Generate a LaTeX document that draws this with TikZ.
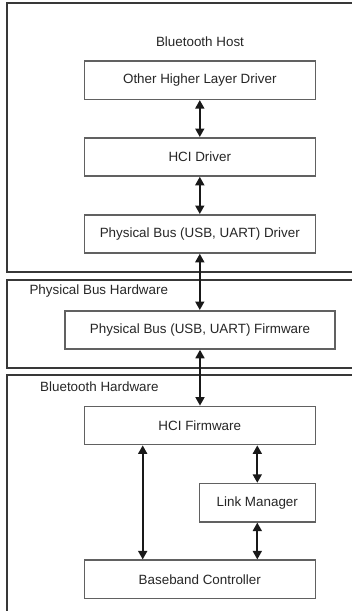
\documentclass[tikz,border=0pt]{standalone}
\usepackage{fontspec}
\setmainfont{Liberation Sans}
\usetikzlibrary{arrows.meta}
\begin{document}
\begin{tikzpicture}[x=1pt,y=-1pt,
  box/.style={draw=black!62,line width=1.5pt,fill=white,inner sep=0pt,minimum width=231pt,minimum height=38.3pt,font=\fontsize{13.4}{15}\selectfont,text=black!85},
  lbl/.style={inner sep=0pt,font=\fontsize{13.4}{15}\selectfont,text=black!85},
  frame/.style={draw=black!78,line width=2.2pt},
  tip/.tip={Triangle[length=8.5pt,width=9pt]},
  link/.style={line width=1.7pt,draw=black!90,tip-tip}]
\useasboundingbox (0,0) rectangle (351,616);
% outer frames (open on the right)
\draw[frame] (352,3.3) -- (7.3,3.3) -- (7.3,272) -- (352,272);
\draw[frame] (352,280) -- (7.3,280) -- (7.3,368.3) -- (352,368.3);
\draw[frame] (352,375) -- (7.3,375) -- (7.3,611);
% labels
\node[lbl] (host) at (200,41.7) {Bluetooth Host};
\node[lbl,anchor=west] (pbhw) at (29.3,290.7) {Physical Bus Hardware};
\node[lbl,anchor=west] (bthw) at (40,386.7) {Bluetooth Hardware};
% boxes
\node[box] (ohl) at (199.8,80.2) {Other Higher Layer Driver};
\node[box] (hcid) at (199.8,156.9) {HCI Driver};
\node[box] (pbd) at (199.8,233.9) {Physical Bus (USB, UART) Driver};
\node[box,minimum width=270pt] (pbf) at (200,329.9) {Physical Bus (USB, UART) Firmware};
\node[box] (hcif) at (199.8,425.5) {HCI Firmware};
\node[box,minimum width=116pt] (lm) at (257.3,502.7) {Link Manager};
\node[box] (bb) at (199.8,579.3) {Baseband Controller};
% connectors
\coordinate (lt) at (142.7,445);
\coordinate (lb) at (142.7,560);
\draw[link] (ohl.south) -- (hcid.north);
\draw[link] (hcid.south) -- (pbd.north);
\draw[link] (pbd.south) -- (pbd.south |- pbf.north);
\draw[link] (pbf.south) -- (pbf.south |- hcif.north);
\draw[link] (lt |- hcif.south) -- (lb |- bb.north);
\draw[link] (lm.north |- hcif.south) -- (lm.north);
\draw[link] (lm.south) -- (lm.south |- bb.north);
\end{tikzpicture}
\end{document}
